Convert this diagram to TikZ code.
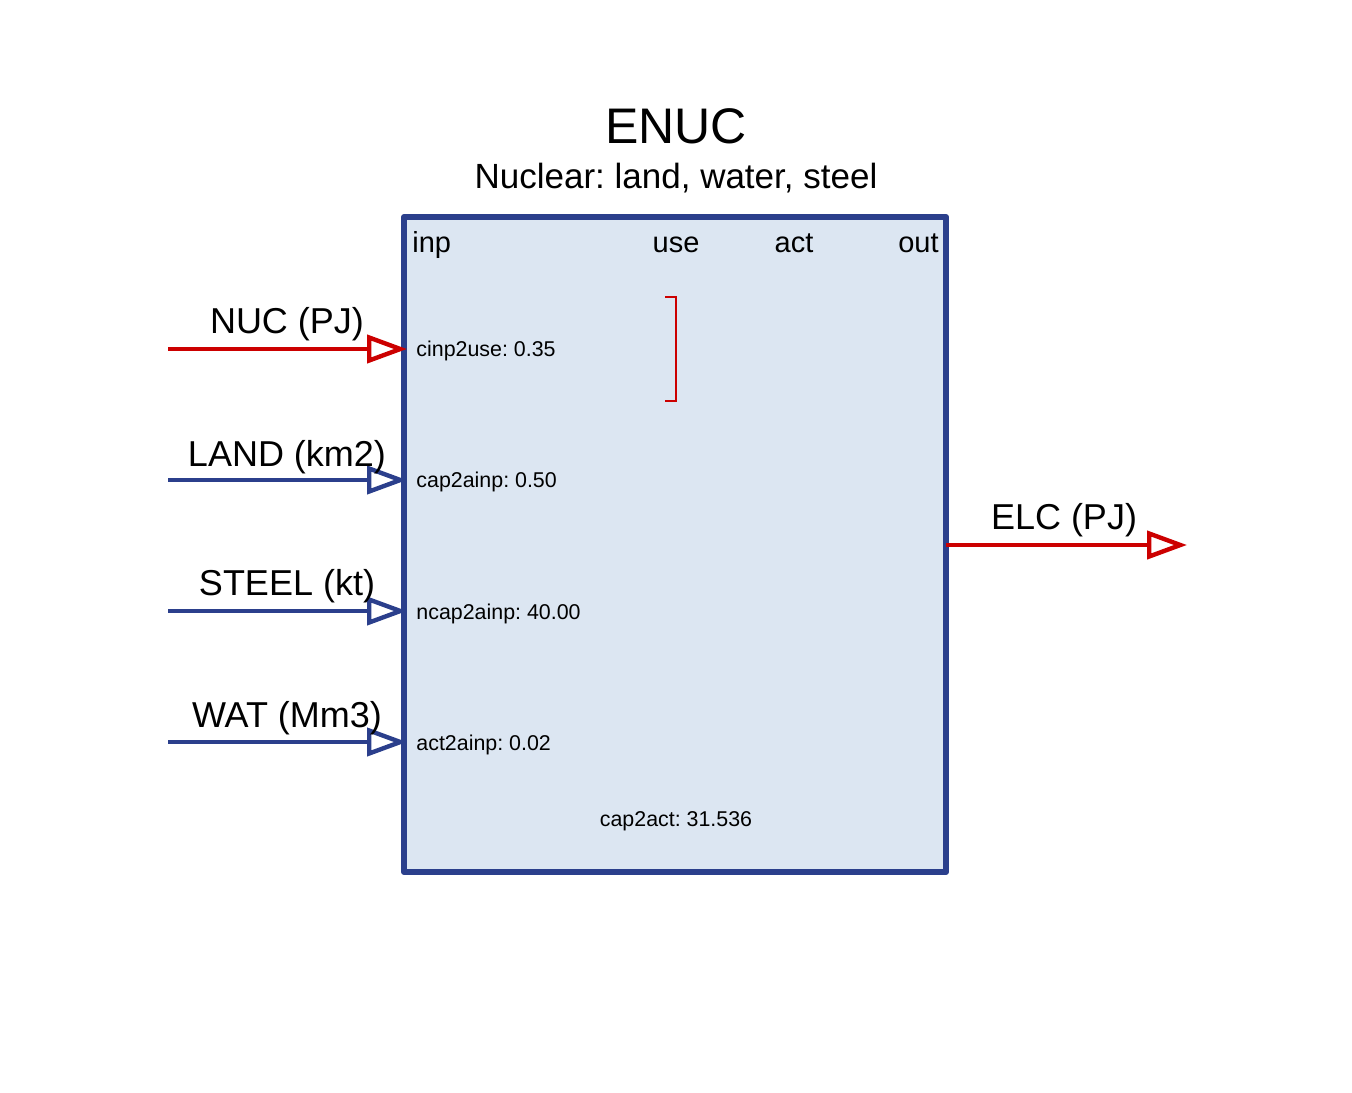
\documentclass[tikz,border=0pt]{standalone}
\usepackage{fontspec}
\setmainfont{Liberation Sans}
\usetikzlibrary{arrows.meta}
\frenchspacing

\definecolor{boxblue}{HTML}{2B3F8C}
\definecolor{boxfill}{HTML}{DCE6F2}
\definecolor{flowred}{HTML}{CC0000}

\tikzset{
  procbox/.style={draw=boxblue, fill=boxfill, line width=3pt, line join=round,
    inner sep=0pt, minimum width=271pt, minimum height=327.5pt},
  flow/.style={line width=2.2pt, -{Triangle[open, length=20pt, width=14pt]}},
  flowlabel/.style={anchor=base, font=\fontsize{18}{20}\selectfont, inner sep=0pt},
  coeff/.style={anchor=west, font=\fontsize{10.7}{12}\selectfont, inner sep=0pt},
  colhead/.style={anchor=base, font=\fontsize{14.5}{16}\selectfont, inner sep=0pt}
}

\begin{document}
\begin{tikzpicture}[x=0.5pt, y=-0.5pt]
        \useasboundingbox (0,0) rectangle (1352,1092);

        \node[anchor=base, font=\fontsize{25}{28}\selectfont, inner sep=0pt] (title) at (676,143) {ENUC};
        \node[anchor=base, font=\fontsize{17.5}{20}\selectfont, inner sep=0pt] (subtitle) at (676,188) {Nuclear: land, water, steel};

        \node[procbox] (enuc) at (675,544.5) {};

        \node[colhead, anchor=base west] (inp) at (412,252) {inp};
        \node[colhead] (use) at (676,252) {use};
        \node[colhead] (act) at (794,252) {act};
        \node[colhead, anchor=base east] (out) at (939,252) {out};

        % inputs
        \coordinate (nucS) at (168,349);
        \coordinate (nucE) at (407,349);
        \coordinate (landS) at (168,480);
        \coordinate (landE) at (407,480);
        \coordinate (steelS) at (168,611);
        \coordinate (steelE) at (407,611);
        \coordinate (watS) at (168,742);
        \coordinate (watE) at (407,742);

        \draw[flow, flowred] (nucS) -- (nucE);
        \draw[flow, boxblue] (landS) -- (landE);
        \draw[flow, boxblue] (steelS) -- (steelE);
        \draw[flow, boxblue] (watS) -- (watE);

        \node[flowlabel] (nuc) at (287,333) {NUC (PJ)};
        \node[flowlabel] (land) at (287,466) {LAND (km2)};
        \node[flowlabel] (steel) at (287,595) {STEEL (kt)};
        \node[flowlabel] (wat) at (287,727) {WAT (Mm3)};

        % output
        \coordinate (elcS) at (946,545);
        \coordinate (elcE) at (1187,545);
        \draw[flow, flowred] (elcS) -- (elcE);
        \node[flowlabel] (elc) at (1064,529) {ELC (PJ)};

        \node[coeff] (cinp) at (416,351) {cinp2use: 0.35};
        \node[coeff] (cap2ainp) at (416,482) {cap2ainp: 0.50};
        \node[coeff] (ncap2ainp) at (416,614) {ncap2ainp: 40.00};
        \node[coeff] (act2ainp) at (416,745) {act2ainp: 0.02};
        \node[coeff, anchor=center] (cap2act) at (676,821) {cap2act: 31.536};

        % group bracket
        \coordinate (brT) at (665,297);
        \coordinate (brB) at (665,401);
        \draw[flowred, line width=1.4pt] (brT) -- ++(11,0) |- (brB);
      \end{tikzpicture}
\end{document}
